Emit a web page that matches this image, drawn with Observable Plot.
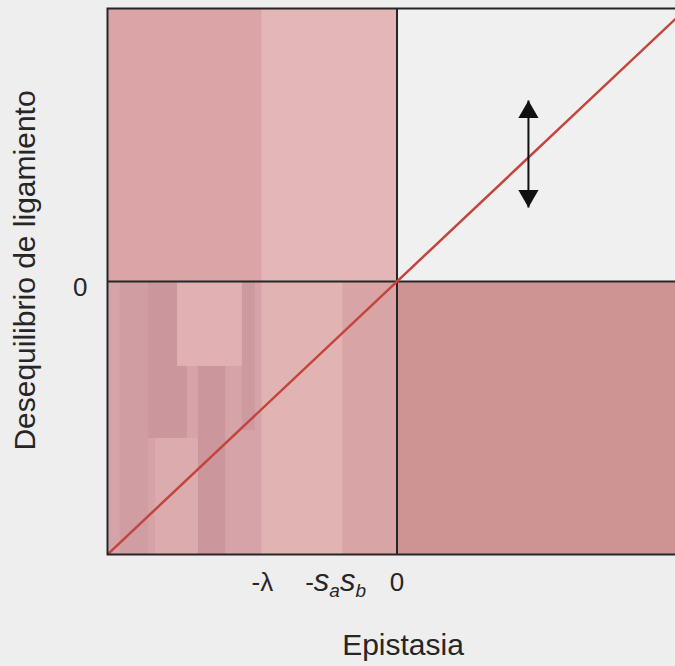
<!DOCTYPE html>
<html><head><meta charset="utf-8">
<script src="https://cdn.jsdelivr.net/npm/d3@7"></script>
<script src="https://cdn.jsdelivr.net/npm/@observablehq/plot@0.6"></script>
<style>
html,body{margin:0;padding:0;background:#eeeeee;overflow:hidden;}
</style></head><body><div id="chart"></div>
<script>
// Tick values and labels (schematic axis positions)
const xTickValues = [-0.465, -0.188, 0];
const xTickLabels = ["-λ", "-sasb", "0"];
const yTickValues = [0];
const yTickLabels = ["0"];
const xTitle = "Epistasia";
const yTitle = "Desequilibrio de ligamiento";

// Shaded regions (data units)
const regionNames = ["ulA", "ulB", "llA", "llB", "llC", "lr", "ur"];
const regionX1 = [-1, -0.465, -1, -0.465, -0.188, 0, 0];
const regionX2 = [-0.465, 0, -0.465, -0.188, 0, 1, 1];
const regionY1 = [0, 0, -1, -1, -1, -1, 0];
const regionY2 = [1, 1, 0, 0, 0, 0, 1];
const regionPalette = ["#dba5a7", "#e4b6b8", "#d6a4a8", "#e2b3b3", "#d9a4a5", "#ce9494", "#f0f0f0"];

// Print shading blocks inside the lower-left region (data units)
const blockNames = ["b1", "b2", "b3", "b4", "b5", "b6"];
const blockX1 = [-0.956, -0.858, -0.686, -0.758, -0.834, -0.534];
const blockX2 = [-0.858, -0.724, -0.592, -0.534, -0.686, -0.489];
const blockY1 = [-1, -0.575, -1, -0.311, -1, -0.546];
const blockY2 = [0, 0, -0.311, 0, -0.575, 0];
const blockPalette = ["#cf9da2", "#cb979d", "#cb979d", "#e0b0b3", "#dcabae", "#cd9a9f"];

// Diagonal line D = epistasis
const diagonalX = [-1, 1];
const diagonalY = [-1, 1];

// Double arrow
const arrowX = [0.454];
const arrowTop = [0.663];
const arrowBottom = [0.271];

const regions = regionNames.map((n, i) => ({name: n, x1: regionX1[i], x2: regionX2[i], y1: regionY1[i], y2: regionY2[i]}));
const blocks = blockNames.map((n, i) => ({name: n, x1: blockX1[i], x2: blockX2[i], y1: blockY1[i], y2: blockY2[i]}));
const diag = diagonalX.map((x, i) => ({x, y: diagonalY[i]}));
const arrow = arrowX.map((x, i) => ({x, top: arrowTop[i], bottom: arrowBottom[i]}));

const font = "'Liberation Sans', Arial, sans-serif";
const ink = "#262626";

const svg = Plot.plot({
  width: 686,
  height: 666,
  marginLeft: 107,
  marginRight: 0,
  marginTop: 8,
  marginBottom: 112,
  style: {fontFamily: font, background: "transparent", color: ink, overflow: "visible", maxWidth: "none"},
  x: {domain: [-1, 1]},
  y: {domain: [-1, 1]},
  color: {domain: [...regionNames, ...blockNames], range: [...regionPalette, ...blockPalette]},
  marks: [
    Plot.rect(regions, {x1: "x1", x2: "x2", y1: "y1", y2: "y2", fill: "name"}),
    Plot.rect(blocks, {x1: "x1", x2: "x2", y1: "y1", y2: "y2", fill: "name"}),
    Plot.ruleX([0], {stroke: ink, strokeWidth: 2}),
    Plot.ruleY([0], {stroke: ink, strokeWidth: 2}),
    Plot.line(diag, {x: "x", y: "y", stroke: "#c4453d", strokeWidth: 2.5, clip: true}),
    Plot.link(arrow, {x1: "x", x2: "x", y1: "top", y2: "bottom", stroke: "#111", strokeWidth: 2}),
    Plot.dot(arrow, {x: "x", y: "top", symbol: "triangle", r: 7.5, fill: "#111", stroke: null, dy: 11.7}),
    Plot.dot(arrow, {x: "x", y: "bottom", symbol: "triangle", r: 7.5, fill: "#111", stroke: null, rotate: 180, dy: -11.7}),
    Plot.frame({stroke: ink, strokeWidth: 2}),
    Plot.axisX(xTickValues, {tickSize: 0, tickPadding: 18, fontSize: 26, label: null,
      tickFormat: d => xTickLabels[xTickValues.indexOf(d)]}),
    Plot.axisY(yTickValues, {tickSize: 0, tickPadding: 20, fontSize: 26, label: null, dy: 6,
      tickFormat: d => yTickLabels[yTickValues.indexOf(d)]}),
    Plot.text([xTitle], {frameAnchor: "bottom", text: d => d, dx: 6, dy: 100, fontSize: 30, fill: ink}),
    Plot.text([yTitle], {frameAnchor: "left", textAnchor: "middle", text: d => d, dx: -82, dy: -11, rotate: -90, fontSize: 30, fill: ink})
  ]
});

// Render the -s_a s_b label with italic s and subscripts
svg.querySelectorAll("text").forEach(t => {
  if (t.textContent === "-sasb") {
    t.textContent = "";
    const ns = "http://www.w3.org/2000/svg";
    const parts = [["-", null], ["s", "i"], ["a", "sub"], ["s", "i"], ["b", "sub"]];
    parts.forEach(([txt, kind], k) => {
      const ts = document.createElementNS(ns, "tspan");
      ts.textContent = txt;
      if (k === 0) ts.setAttribute("dx", "-7");
      if (kind === "i") { ts.setAttribute("font-style", "italic"); ts.setAttribute("font-size", "31"); }
      if (kind === "sub") { ts.setAttribute("font-style", "italic"); ts.setAttribute("font-size", "19"); ts.setAttribute("baseline-shift", "-30%"); }
      t.appendChild(ts);
    });
  }
});
document.getElementById("chart").appendChild(svg);
</script>
</body></html>
